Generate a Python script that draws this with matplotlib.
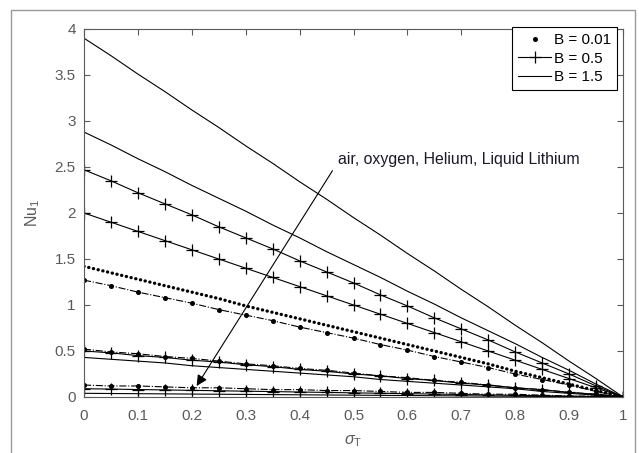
import matplotlib
matplotlib.use('Agg')
import matplotlib.pyplot as plt
from matplotlib.lines import Line2D
from matplotlib.patches import Rectangle

plt.rcParams['font.family'] = ['Liberation Sans', 'DejaVu Sans']
plt.rcParams['mathtext.fontset'] = 'custom'
plt.rcParams['mathtext.rm'] = 'Liberation Sans'
plt.rcParams['mathtext.it'] = 'Liberation Sans:italic'

# ---------------- data ----------------
sigma_T = [0.00, 0.05, 0.10, 0.15, 0.20, 0.25, 0.30, 0.35, 0.40, 0.45, 0.50,
           0.55, 0.60, 0.65, 0.70, 0.75, 0.80, 0.85, 0.90, 0.95, 1.00]

# air
air_B15 = [3.90, 3.71, 3.51, 3.32, 3.12, 2.93, 2.73, 2.54, 2.34, 2.15, 1.95,
           1.76, 1.56, 1.37, 1.17, 0.98, 0.78, 0.59, 0.39, 0.20, 0.00]
air_B05 = [2.47, 2.35, 2.22, 2.10, 1.98, 1.85, 1.73, 1.61, 1.48, 1.36, 1.24,
           1.11, 0.99, 0.86, 0.74, 0.62, 0.49, 0.37, 0.25, 0.12, 0.00]
air_B001 = [1.42, 1.35, 1.28, 1.21, 1.14, 1.07, 0.99, 0.92, 0.85, 0.78, 0.71,
            0.64, 0.57, 0.50, 0.43, 0.36, 0.28, 0.21, 0.14, 0.07, 0.00]
# oxygen
oxy_B15 = [2.88, 2.74, 2.59, 2.45, 2.30, 2.16, 2.02, 1.87, 1.73, 1.58, 1.44,
           1.30, 1.15, 1.01, 0.86, 0.72, 0.58, 0.43, 0.29, 0.14, 0.00]
oxy_B05 = [2.00, 1.90, 1.80, 1.70, 1.60, 1.50, 1.40, 1.30, 1.20, 1.10, 1.00,
           0.90, 0.80, 0.70, 0.60, 0.50, 0.40, 0.30, 0.20, 0.10, 0.00]
oxy_B001 = [1.27, 1.21, 1.14, 1.08, 1.02, 0.95, 0.89, 0.83, 0.76, 0.70, 0.64,
            0.57, 0.51, 0.44, 0.38, 0.32, 0.25, 0.19, 0.13, 0.06, 0.00]
# helium
he_a = [0.52, 0.49, 0.47, 0.44, 0.42, 0.39, 0.36, 0.34, 0.31, 0.29, 0.26,
        0.23, 0.21, 0.18, 0.16, 0.13, 0.10, 0.08, 0.05, 0.03, 0.00]
he_b = [0.50, 0.48, 0.45, 0.43, 0.40, 0.38, 0.35, 0.33, 0.30, 0.28, 0.25,
        0.23, 0.20, 0.18, 0.15, 0.13, 0.10, 0.08, 0.05, 0.03, 0.00]
he_c = [0.43, 0.41, 0.39, 0.37, 0.34, 0.32, 0.30, 0.28, 0.26, 0.24, 0.22,
        0.19, 0.17, 0.15, 0.13, 0.11, 0.09, 0.06, 0.04, 0.02, 0.00]
# liquid lithium
li_a = [0.13, 0.12, 0.12, 0.11, 0.10, 0.10, 0.09, 0.08, 0.08, 0.07, 0.07,
        0.06, 0.05, 0.05, 0.04, 0.03, 0.03, 0.02, 0.01, 0.01, 0.00]
li_b = [0.090, 0.086, 0.081, 0.077, 0.072, 0.068, 0.063, 0.059, 0.054, 0.050, 0.045,
        0.041, 0.036, 0.032, 0.027, 0.023, 0.018, 0.014, 0.009, 0.005, 0.000]
li_c = [0.040, 0.038, 0.036, 0.034, 0.032, 0.030, 0.028, 0.026, 0.024, 0.022, 0.020,
        0.018, 0.016, 0.014, 0.012, 0.010, 0.008, 0.006, 0.004, 0.002, 0.000]

x_ticks = [0, 0.1, 0.2, 0.3, 0.4, 0.5, 0.6, 0.7, 0.8, 0.9, 1]
x_ticklabels = ['0', '0.1', '0.2', '0.3', '0.4', '0.5', '0.6', '0.7', '0.8', '0.9', '1']
y_ticks = [0, 0.5, 1, 1.5, 2, 2.5, 3, 3.5, 4]
y_ticklabels = ['0', '0.5', '1', '1.5', '2', '2.5', '3', '3.5', '4']
legend_labels = ['B = 0.01', 'B = 0.5', 'B = 1.5']
annotation_text = 'air, oxygen, Helium, Liquid Lithium'

# ---------------- figure ----------------
fig = plt.figure(figsize=(6.39, 4.53), dpi=100)
ax = fig.add_axes([84/639, 1-397/453, (623-84)/639, (397-29)/453])

gray = '#5a5a5a'
lw = 0.8
plus = dict(marker='+', markersize=8, markeredgewidth=0.9)

# B = 1.5 (solid)
for y in (air_B15, oxy_B15, he_c, li_c):
    ax.plot(sigma_T, y, color='k', lw=lw)
# B = 0.5 (solid with +)
for y in (air_B05, oxy_B05, he_b, li_b):
    ax.plot(sigma_T, y, color='k', lw=lw, **plus)
# B = 0.01 (dotted / dash-dot with dots)
ax.plot(sigma_T, air_B001, color='k', lw=2.4, linestyle=(0, (0.05, 1.4)),
        dash_capstyle='round')
for y in (oxy_B001, he_a, li_a):
    ax.plot(sigma_T, y, color='k', lw=lw, linestyle='-.', marker='o',
            markersize=2.6)

ax.set_xlim(0, 1)
ax.set_ylim(0, 4)
ax.set_xticks(x_ticks)
ax.set_xticklabels(x_ticklabels)
ax.set_yticks(y_ticks)
ax.set_yticklabels(y_ticklabels)
ax.tick_params(direction='in', top=True, right=True, length=4, width=0.8,
               color=gray, labelcolor=gray, labelsize=11)
ax.tick_params(axis='x', pad=9)
ax.tick_params(axis='y', pad=6)
for s in ax.spines.values():
    s.set_color(gray)
    s.set_linewidth(0.8)

ax.set_xlabel(r'$\sigma_{\rm T}$', fontsize=11.5, color=gray, labelpad=7)
ax.set_ylabel(r'$\mathrm{Nu}_1$', fontsize=11.5, color=gray, labelpad=9)

# annotation arrow
ax.annotate('', xy=(0.209, 0.12), xytext=(0.461, 2.46),
            arrowprops=dict(arrowstyle='-|>', color='k', lw=0.8,
                            mutation_scale=16, shrinkA=0, shrinkB=0))
ax.text(0.472, 2.58, annotation_text, fontsize=11.4, color='#1a1a2a',
        ha='left', va='center')

# legend
handles = [
    Line2D([], [], color='k', linestyle='none', marker='o', markersize=2.6),
    Line2D([], [], color='k', lw=lw, **plus),
    Line2D([], [], color='k', lw=lw),
]
leg = ax.legend(handles, legend_labels, loc='upper right',
                bbox_to_anchor=(617/639, 1-27/453),
                bbox_transform=fig.transFigure, borderaxespad=0,
                fontsize=11, handlelength=2.2, handletextpad=0.15,
                labelspacing=0.3, borderpad=0.4, fancybox=False,
                framealpha=1, edgecolor='k')
leg.get_frame().set_linewidth(0.8)

# outer frame
fig.patches.append(Rectangle((11/639, -0.1), (635-11)/639, 1-10/453+0.1,
                             transform=fig.transFigure, fill=False,
                             edgecolor='#9a9a9a', lw=1.0, clip_on=False))

fig.savefig('out.png', dpi=100)
